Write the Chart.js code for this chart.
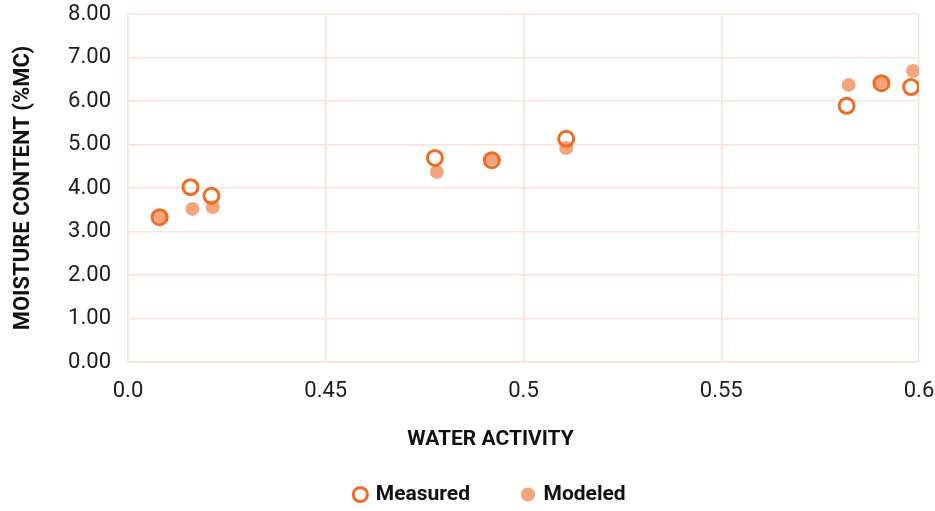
<!DOCTYPE html>
<html>
<head>
<meta charset="utf-8">
<script src="https://cdn.jsdelivr.net/npm/chart.js@4/dist/chart.umd.min.js"></script>
<style>
  html, body { margin: 0; padding: 0; background: #fff; }
  #wrap { width: 935px; height: 511px; }
</style>
</head>
<body>
<div id="wrap"><canvas id="chart" width="935" height="511"></canvas></div>
<script>
// Actividad de agua vs. humedad
const waterActivity = [0.408, 0.4158, 0.4211, 0.4776, 0.492, 0.5108, 0.5817, 0.5905, 0.598];
const measured = [3.33, 4.02, 3.82, 4.69, 4.64, 5.13, 5.89, 6.41, 6.32];
const modeledX = [0.4083, 0.4163, 0.4214, 0.4781, 0.492, 0.5108, 0.5822, 0.5905, 0.5985];
const modeled = [3.35, 3.52, 3.56, 4.37, 4.67, 4.92, 6.37, 6.44, 6.69];

const xTickValues = [0.4, 0.45, 0.5, 0.55, 0.6];
const xTickLabels = ['0.0', '0.45', '0.5', '0.55', '0.6'];

const ORANGE = '#F26B23';
const SALMON = '#F5A47C';
const GRID = '#FBE2DA';
const FONT = 'Roboto, "Liberation Sans", sans-serif';

// altura fija para la leyenda
const legendHeight = {
    id: 'legendHeight',
    beforeInit(chart) {
        const fit = chart.legend.fit;
        chart.legend.fit = function () {
            fit.call(this);
            this.height = 80;
        };
    }
};

const ctx = document.getElementById('chart').getContext('2d');
new Chart(ctx, {
    type: 'scatter',
    data: {
        datasets: [{
            label: 'Measured',
            data: waterActivity.map((x, i) => ({ x: x, y: measured[i] })),
            borderColor: ORANGE,
            backgroundColor: 'rgba(0,0,0,0)',
            borderWidth: 3,
            pointRadius: 7.5,
            pointHoverRadius: 7.5
        }, {
            label: 'Modeled',
            data: modeledX.map((x, i) => ({ x: x, y: modeled[i] })),
            borderColor: SALMON,
            backgroundColor: SALMON,
            borderWidth: 0,
            pointRadius: 7,
            pointHoverRadius: 7
        }]
    },
    plugins: [legendHeight],
    options: {
        responsive: false,
        animation: false,
        layout: { padding: { top: 14, right: 16, left: 62, bottom: 0 } },
        scales: {
            x: {
                type: 'linear',
                min: 0.4,
                max: 0.6,
                afterBuildTicks: axis => {
                    axis.ticks = xTickValues.map(v => ({ value: v }));
                },
                afterFit: axis => {
                    axis.height = 65.4;
                    axis.paddingLeft = 0;
                    axis.paddingRight = 0;
                },
                ticks: {
                    color: '#1c1c1c',
                    font: { family: FONT, size: 22 },
                    padding: 16,
                    callback: (value) => {
                        const i = xTickValues.findIndex(v => Math.abs(v - value) < 1e-9);
                        return i >= 0 ? xTickLabels[i] : '';
                    }
                },
                grid: { color: GRID, lineWidth: 1.5, drawTicks: false },
                border: { color: GRID, width: 1.5 }
            },
            y: {
                min: 0,
                max: 8,
                afterFit: axis => {
                    axis.width = 66;
                    axis.paddingTop = 0;
                    axis.paddingBottom = 0;
                },
                ticks: {
                    stepSize: 1,
                    color: '#1c1c1c',
                    font: { family: FONT, size: 22 },
                    padding: 17,
                    callback: v => v.toFixed(2)
                },
                grid: { color: GRID, lineWidth: 1.5, drawTicks: false },
                border: { color: GRID, width: 1.5 },
                title: {
                    display: true,
                    text: 'MOISTURE CONTENT (%MC)',
                    color: '#111',
                    font: { family: FONT, size: 22, weight: 'bold' },
                    padding: { top: -52, bottom: 0 }
                }
            }
        },
        plugins: {
            title: {
                display: true,
                text: 'WATER ACTIVITY',
                position: 'bottom',
                weight: 500,
                color: '#111',
                font: { family: FONT, size: 21, weight: 'bold' },
                padding: { top: 0, bottom: -21.6 }
            },
            legend: {
                position: 'bottom',
                labels: {
                    usePointStyle: true,
                    pointStyle: 'circle',
                    boxWidth: 10,
                    boxHeight: 10,
                    padding: 53,
                    color: '#111',
                    font: { family: FONT, size: 21, weight: 'bold' }
                }
            },
            tooltip: { enabled: false }
        }
    }
});
</script>
</body>
</html>
